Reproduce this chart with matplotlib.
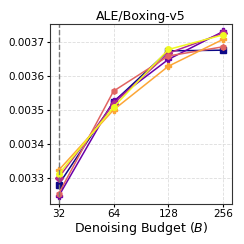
import matplotlib

matplotlib.use("Agg")
import matplotlib.pyplot as plt
import numpy as np

budgets = [32, 64, 128, 256]
series_vals = [
    [0.003282, 0.003524, 0.003674, 0.003676],
    [0.003248, 0.003527, 0.003649, 0.003731],
    [0.003302, 0.003519, 0.003667, 0.003726],
    [0.003255, 0.003556, 0.003659, 0.003686],
    [0.003324, 0.003501, 0.003629, 0.003708],
    [0.003312, 0.003509, 0.003678, 0.003721],
]
markers = ["s", "P", "D", "h", "P", "o"]
title = "ALE/Boxing-v5"
yticks = [0.0033, 0.0034, 0.0035, 0.0036, 0.0037]

colors = plt.cm.plasma(np.linspace(0, 1, len(series_vals)))

fig, ax = plt.subplots(figsize=(2.44, 2.44), dpi=100)
for vals, c, m in zip(series_vals, colors, markers):
    ax.plot(budgets, vals, color=c, marker=m, markersize=4, linewidth=1.1)

ax.axvline(32, color="#777777", linestyle="--", linewidth=1)
ax.set_xscale("log", base=2)
ax.set_xticks(budgets, [str(b) for b in budgets])
ax.minorticks_off()
ax.set_yticks(yticks, [f"{v:.4f}" for v in yticks])
ax.set_xlim(28.5, 287)
ax.set_ylim(0.003225, 0.003753)
ax.tick_params(labelsize=7.5, length=2, pad=1.5)
ax.grid(color="#dddddd", linestyle="--", linewidth=0.6)
ax.set_axisbelow(True)
for s in ax.spines.values():
    s.set_color("#333333")
ax.set_title(title, fontsize=9, pad=3)
ax.set_xlabel("Denoising Budget ($B$)", fontsize=9, labelpad=0.5)
fig.subplots_adjust(left=0.203, right=0.952, top=0.902, bottom=0.164)
fig.savefig("out.png")
